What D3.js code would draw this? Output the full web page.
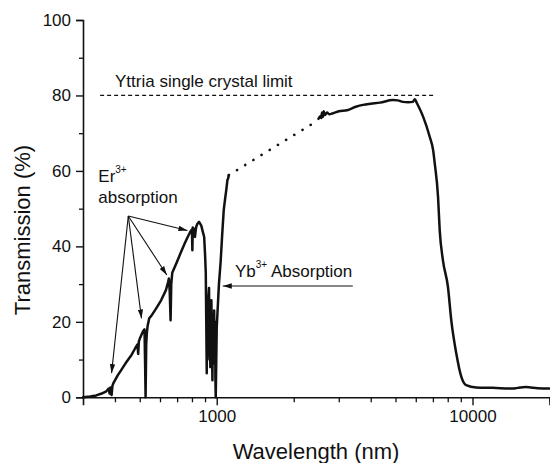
<!DOCTYPE html>
<html><head><meta charset="utf-8">
<script src="https://cdn.jsdelivr.net/npm/d3@7"></script>
<style>body{margin:0;background:#fff} text{font-family:"Liberation Sans",Arial,sans-serif;fill:#111}</style>
</head><body><svg id="c" width="550" height="463"></svg>
<script>
// Measured transmission (solid, UV–NIR)
const wavelength1 = [300,320,338,355,370,378,381,384,388,391,394,410,423,440,462,480,490,493,496,500,515,522,525,527,530,533,537,545,554,579,606,633,645,650,655,660,664,670,680,700,725,750,770,790,800,803,806,815,822,830,840,853,870,885,893,900,906,910,914,916,918,921,925,929,933,937,940,944,948,953,958,962,965,968,972,977,980,983,986,988,991,996,1000,1006,1020,1036,1050,1065,1080,1090,1101,1108,1115];
const transmission1 = [0,0.2,0.5,1.0,1.6,2.3,1.0,2.6,0.6,3.0,3.7,5.8,7.2,9.0,11,13,14,11.5,14.8,15.5,17.5,18,8,0,14,17,19,21,21.5,23.5,25.7,28.4,30.5,31.5,28,20.4,30,33,34,36,38.5,40.8,42.5,44,44.5,39,45,44.5,42.5,45,46,46.5,45.5,43.5,42.5,38,33,20,6.4,18,25,10,15,27,29,12,20,8,13.3,25.7,15,4.5,16,20,9,23,14,12,20,5,0,10,18.6,22,30,36,43,49.6,53,55,57.6,58,58.9];
// Gap (dotted)
const wavelengthGap = [1115, 2500];
const transmissionGap = [58.9, 73.5];
// Measured transmission (solid, IR)
const wavelength2 = [2500,2540,2560,2580,2600,2620,2650,2700,2750,2850,3000,3235,3500,3735,4000,4347,4884,5100,5343,5600,5846,5950,6057,6410,6808,7015,7118,7333,7443,7663,8015,8261,8643,9044,9446,10330,12000,14310,15000,16190,18000,20000];
const transmission2 = [73.8,74.5,74.0,75.5,74.3,75.8,74.8,75.5,75,75.3,75.8,76.1,77,77.5,77.8,78.1,78.8,78.7,78.3,78.2,78.3,79,78,74.4,69,65.5,62,53.1,44.3,36.3,29.3,20.4,11.6,5.4,3.2,2.6,2.5,2.3,2.5,2.7,2.4,2.3];
// Yttria single crystal limit
const limitWavelength = [350, 7050];
const limitValue = [80, 80];
// Ticks
const xMajorTicks = [1000, 10000];
const xMinorTicks = [400,500,600,700,800,900,2000,3000,4000,5000,6000,7000,8000,9000,20000];
const yMajorTicks = [0,20,40,60,80,100];
const yMinorTicks = [10,30,50,70,90];
// Annotation arrows (wavelength, transmission)
const erArrowOrigin = [451, 48.05];
const erArrowTargets = [[388, 6.4],[508, 20.9],[638, 32.4],[768, 44.2]];
const ybArrow = [[3404, 29.5],[1056, 29.5]];

const svg = d3.select("#c");
const x = d3.scaleLog().domain([300, 20000]).range([83, 549.5]);
const y = d3.scaleLinear().domain([0, 100]).range([397.3, 20]);

svg.append("defs").append("marker")
  .attr("id","ah").attr("viewBox","0 0 10 6").attr("refX",10).attr("refY",3)
  .attr("markerWidth",9).attr("markerHeight",5.5).attr("markerUnits","userSpaceOnUse")
  .attr("orient","auto")
  .append("path").attr("d","M0,0L10,3L0,6Z").attr("fill","#111");

// Axes
const ax = svg.append("g").attr("transform","translate(0,397.3)");
ax.call(d3.axisBottom(x).tickValues(xMajorTicks).tickSize(8).tickPadding(5).tickFormat(d3.format("d")))
  .call(g=>g.select(".domain").attr("stroke","#111").attr("stroke-width",1.6))
  .call(g=>g.selectAll(".tick line").attr("stroke","#111").attr("stroke-width",1.4))
  .call(g=>g.selectAll(".tick text").attr("font-size",17).attr("font-family","Liberation Sans, Arial").attr("fill","#111"));
ax.append("g").call(d3.axisBottom(x).tickValues(xMinorTicks).tickSize(5).tickFormat(""))
  .call(g=>g.select(".domain").remove())
  .call(g=>g.selectAll(".tick line").attr("stroke","#111").attr("stroke-width",1.3));

const ay = svg.append("g").attr("transform","translate(83,0)");
ay.call(d3.axisLeft(y).tickValues(yMajorTicks).tickSize(7).tickPadding(5))
  .call(g=>g.select(".domain").attr("stroke","#111").attr("stroke-width",1.6))
  .call(g=>g.selectAll(".tick line").attr("stroke","#111").attr("stroke-width",1.4))
  .call(g=>g.selectAll(".tick text").attr("font-size",17).attr("font-family","Liberation Sans, Arial").attr("fill","#111"));
ay.append("g").call(d3.axisLeft(y).tickValues(yMinorTicks).tickSize(4).tickFormat(""))
  .call(g=>g.select(".domain").remove())
  .call(g=>g.selectAll(".tick line").attr("stroke","#111").attr("stroke-width",1.3));

// Axis titles
svg.append("text").attr("x",316).attr("y",459).attr("text-anchor","middle")
  .attr("font-size",22).text("Wavelength (nm)");
svg.append("text").attr("transform","translate(30,230) rotate(-90)").attr("text-anchor","middle")
  .attr("font-size",22).text("Transmission (%)");

// Limit line
const line = d3.line().x(d=>x(d[0])).y(d=>y(d[1]));
const smooth = d3.line().x(d=>x(d[0])).y(d=>y(d[1])).curve(d3.curveMonotoneX);
svg.append("path").datum(d3.zip(limitWavelength, limitValue)).attr("d", line)
  .attr("fill","none").attr("stroke","#111").attr("stroke-width",1.3).attr("stroke-dasharray","4,3");
svg.append("text").attr("x",115).attr("y",86.5).attr("font-size",17).text("Yttria single crystal limit");

// Data
const curveStyle = p => p.attr("fill","none").attr("stroke","#111").attr("stroke-width",2.5)
  .attr("stroke-linejoin","round").attr("stroke-linecap","round");
svg.append("path").datum(d3.zip(wavelength1, transmission1)).attr("d", line).call(curveStyle);
svg.append("path").datum(d3.zip(wavelength2, transmission2)).attr("d", smooth).call(curveStyle);
svg.append("path").datum(d3.zip(wavelengthGap, transmissionGap)).attr("d", line)
  .call(curveStyle).attr("stroke-width",2.6).attr("stroke-dasharray","0.1,9.5");

// Er annotation
const er = svg.append("text").attr("x",98.3).attr("y",181.7).attr("font-size",17);
er.append("tspan").text("Er");
er.append("tspan").attr("font-size",10).attr("dy",-9).text("3+");
svg.append("text").attr("x",98.3).attr("y",203).attr("font-size",17).text("absorption");
erArrowTargets.forEach(t=>{
  svg.append("line").attr("x1",x(erArrowOrigin[0])).attr("y1",y(erArrowOrigin[1]))
    .attr("x2",x(t[0])).attr("y2",y(t[1])).attr("stroke","#111").attr("stroke-width",1.1)
    .attr("marker-end","url(#ah)");
});

// Yb annotation
const yb = svg.append("text").attr("x",235).attr("y",276.7).attr("font-size",17);
yb.append("tspan").text("Yb");
yb.append("tspan").attr("font-size",10).attr("dy",-9).text("3+");
yb.append("tspan").attr("dy",9).text(" Absorption");
svg.append("line").attr("x1",x(ybArrow[0][0])).attr("y1",y(ybArrow[0][1]))
  .attr("x2",x(ybArrow[1][0])).attr("y2",y(ybArrow[1][1])).attr("stroke","#111").attr("stroke-width",1.1)
  .attr("marker-end","url(#ah)");
</script></body></html>
